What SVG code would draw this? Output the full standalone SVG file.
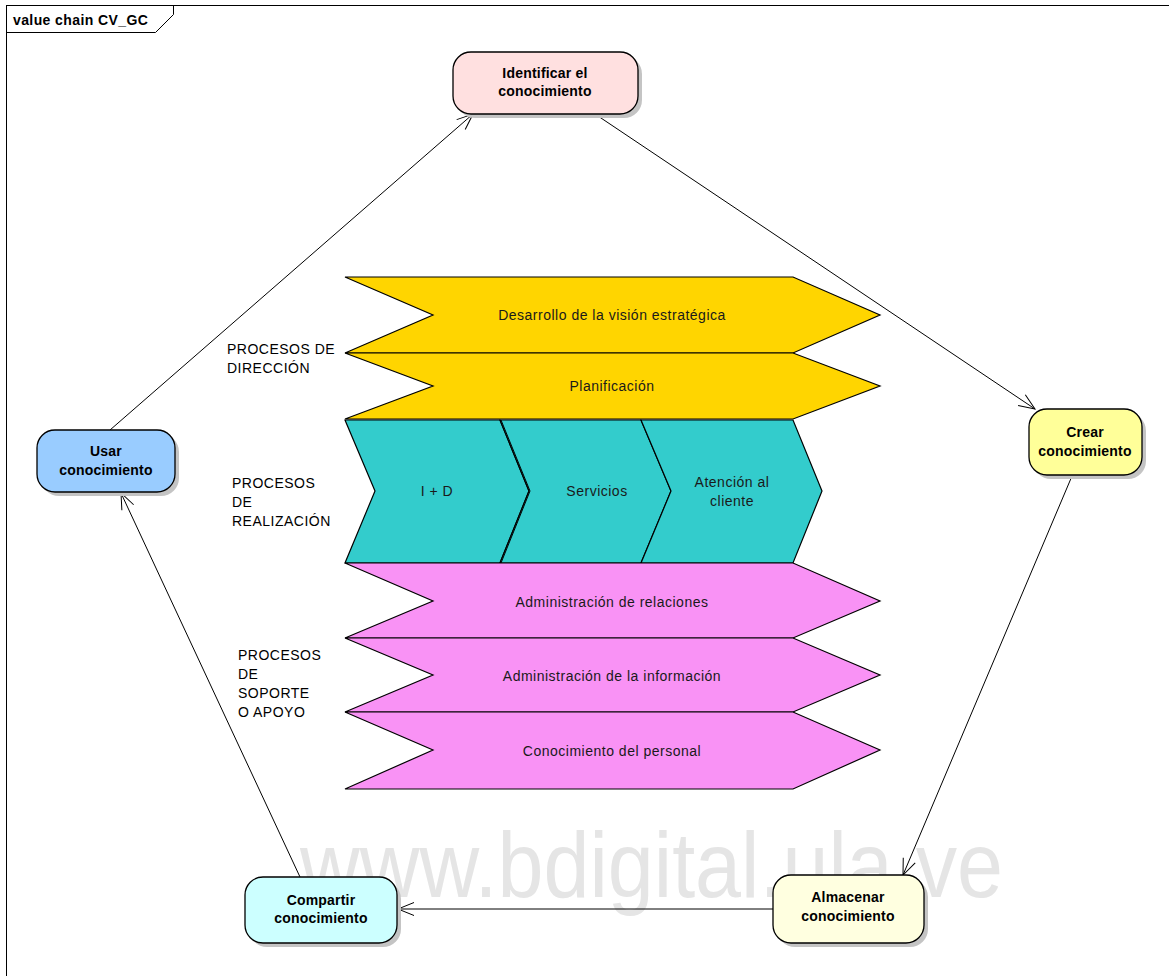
<svg xmlns="http://www.w3.org/2000/svg" width="1169" height="976" viewBox="0 0 1169 976">
  <defs>
    <style>
      .frame { fill: none; stroke: #000; stroke-width: 1; }
      .title { font-family: "Liberation Sans", Arial, sans-serif; font-size: 14px; font-weight: bold; letter-spacing: 0.4px; fill: #000; }
      .shadow { fill: #c4c4c4; }
      .node { stroke: #000; stroke-width: 1.3; }
      .ntext { font-family: "Liberation Sans", Arial, sans-serif; font-size: 14px; font-weight: bold; letter-spacing: 0.2px; fill: #000; text-anchor: middle; }
      .band { stroke: #000; stroke-width: 1.2; stroke-linejoin: miter; }
      .btext { font-family: "Liberation Sans", Arial, sans-serif; font-size: 14px; letter-spacing: 0.5px; fill: #1a1a1a; text-anchor: middle; }
      .ltext { font-family: "Liberation Sans", Arial, sans-serif; font-size: 14px; letter-spacing: 0.5px; fill: #000; }
      .edge { fill: none; stroke: #000; stroke-width: 1; }
      .wm { font-family: "Liberation Sans", Arial, sans-serif; font-size: 92px; fill: #e5e5e5; }
    </style>
    <marker id="open" viewBox="-17 -9 19 18" refX="0" refY="0" markerWidth="19" markerHeight="18" markerUnits="userSpaceOnUse" orient="auto">
      <path d="M-16,-6.5 L0,0 L-16,6.5" fill="none" stroke="#000" stroke-width="1"/>
    </marker>
  </defs>

  <rect width="1169" height="976" fill="#fff"/>

  <!-- diagram frame with name tab -->
  <g id="frame">
    <rect class="frame" x="6.5" y="5.5" width="1175" height="985"/>
    <polyline class="frame" points="6.5,32.5 155.5,32.5 173.5,14.5 173.5,5.5"/>
    <text class="title" x="13" y="25">value chain CV_GC</text>
  </g>

  <!-- background watermark -->
  <text class="wm" x="300" y="897" textLength="703" lengthAdjust="spacingAndGlyphs">www.bdigital.ula.ve</text>

  <!-- value chain: direction processes -->
  <g id="direccion">
    <polygon class="band" fill="#FFD500" points="345,277 793,277 880,315 793,353 345,353 433,315"/>
    <text class="btext" x="612" y="320">Desarrollo de la visión estratégica</text>
    <polygon class="band" fill="#FFD500" points="345,353 793,353 880,386 793,419 345,419 433,386"/>
    <text class="btext" x="612" y="391">Planificación</text>
  </g>

  <!-- value chain: realization processes -->
  <g id="realizacion">
    <polygon class="band" fill="#33CCCC" points="345,420 500,420 529,491 500,563 345,563 375,491"/>
    <text class="btext" x="437" y="496">I + D</text>
    <polygon class="band" fill="#33CCCC" points="500,420 641,420 671,491 641,563 500,563 529,491"/>
    <polyline fill="none" stroke="#000" stroke-width="1" points="501,420 530,491 501,563"/>
    <text class="btext" x="597" y="496">Servicios</text>
    <polygon class="band" fill="#33CCCC" points="641,420 793,420 822,491 793,563 641,563 671,491"/>
    <text class="btext" x="732" y="487">Atención al</text>
    <text class="btext" x="732" y="506">cliente</text>
  </g>

  <!-- value chain: support processes -->
  <g id="soporte">
    <polygon class="band" fill="#F992F5" points="345,563 793,563 880,601 793,638 345,638 433,601"/>
    <text class="btext" x="612" y="607">Administración de relaciones</text>
    <polygon class="band" fill="#F992F5" points="345,638 793,638 880,675 793,712 345,712 433,675"/>
    <text class="btext" x="612" y="681">Administración de la información</text>
    <polygon class="band" fill="#F992F5" points="345,712 793,712 880,750 793,789 345,789 433,750"/>
    <text class="btext" x="612" y="756">Conocimiento del personal</text>
  </g>

  <!-- row labels -->
  <g id="labels">
    <text class="ltext" x="227" y="354">PROCESOS DE</text>
    <text class="ltext" x="227" y="373">DIRECCIÓN</text>
    <text class="ltext" x="232" y="488">PROCESOS</text>
    <text class="ltext" x="232" y="507">DE</text>
    <text class="ltext" x="232" y="526">REALIZACIÓN</text>
    <text class="ltext" x="238" y="660">PROCESOS</text>
    <text class="ltext" x="238" y="679">DE</text>
    <text class="ltext" x="238" y="698">SOPORTE</text>
    <text class="ltext" x="238" y="717">O APOYO</text>
  </g>

  <!-- knowledge cycle connectors -->
  <g id="connectors">
    <line class="edge" x1="110" y1="430" x2="473" y2="114" marker-end="url(#open)"/>
    <line class="edge" x1="595" y1="114" x2="1035" y2="409" marker-end="url(#open)"/>
    <line class="edge" x1="1072" y1="476" x2="903" y2="875" marker-end="url(#open)"/>
    <line class="edge" x1="773" y1="909" x2="398" y2="909" marker-end="url(#open)"/>
    <line class="edge" x1="300" y1="877" x2="121" y2="493" marker-end="url(#open)"/>
  </g>

  <!-- knowledge cycle nodes -->
  <g id="identificar">
    <rect class="shadow" x="457" y="56" width="185" height="62" rx="18"/>
    <rect class="node" x="453" y="52" width="185" height="62" rx="18" fill="#FFE0E0"/>
    <text class="ntext" x="545" y="78">Identificar el</text>
    <text class="ntext" x="545" y="96">conocimiento</text>
  </g>

  <g id="crear">
    <rect class="shadow" x="1033" y="413" width="113" height="66" rx="18"/>
    <rect class="node" x="1029" y="409" width="113" height="66" rx="18" fill="#FFFF99"/>
    <text class="ntext" x="1085" y="437">Crear</text>
    <text class="ntext" x="1085" y="456">conocimiento</text>
  </g>

  <g id="almacenar">
    <rect class="shadow" x="777" y="879" width="151" height="68" rx="18"/>
    <rect class="node" x="773" y="875" width="151" height="68" rx="18" fill="#FFFFE0"/>
    <text class="ntext" x="848" y="902">Almacenar</text>
    <text class="ntext" x="848" y="921">conocimiento</text>
  </g>

  <g id="compartir">
    <rect class="shadow" x="249" y="881" width="152" height="66" rx="18"/>
    <rect class="node" x="245" y="877" width="152" height="66" rx="18" fill="#CCFFFF"/>
    <text class="ntext" x="321" y="905">Compartir</text>
    <text class="ntext" x="321" y="923">conocimiento</text>
  </g>

  <g id="usar">
    <rect class="shadow" x="41" y="434" width="138" height="62" rx="18"/>
    <rect class="node" x="37" y="430" width="138" height="62" rx="18" fill="#99CCFF"/>
    <text class="ntext" x="106" y="456">Usar</text>
    <text class="ntext" x="106" y="475">conocimiento</text>
  </g>
</svg>
